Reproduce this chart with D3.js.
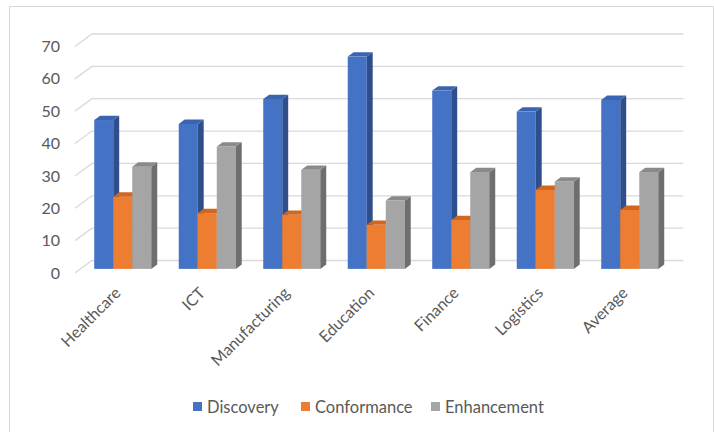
<!DOCTYPE html>
<html>
<head>
<meta charset="utf-8">
<script src="https://cdn.jsdelivr.net/npm/d3@7"></script>
<style>
  html, body { margin: 0; padding: 0; background: #ffffff; }
  svg { display: block; }
  text { font-family: Lato, "Liberation Sans", sans-serif; fill: #595959; }
</style>
</head>
<body>
<svg id="chart" width="714" height="432"></svg>
<script>
// ---- data ----
const categories = ["Healthcare", "ICT", "Manufacturing", "Education", "Finance", "Logistics", "Average"];
const seriesNames = ["Discovery", "Conformance", "Enhancement"];
const discovery   = [46.0, 44.8, 52.5, 65.6, 55.1, 48.6, 52.2];
const conformance = [22.3, 17.2, 16.7, 13.6, 15.1, 24.4, 18.2];
const enhancement = [31.6, 37.8, 30.6, 21.1, 29.9, 27.0, 29.9];
const yTicks = [0, 10, 20, 30, 40, 50, 60, 70];

const seriesValues = [discovery, conformance, enhancement];
const colors = {
  Discovery:   { front: "#4472C4", side: "#2E4F8C", top: "#3A64B0" },
  Conformance: { front: "#ED7D31", side: "#B45A1E", top: "#D0661F" },
  Enhancement: { front: "#A5A5A5", side: "#6E6E6E", top: "#8A8A8A" }
};

const svg = d3.select("#chart");

// chart frame
svg.append("rect")
  .attr("x", 9.5).attr("y", 6.5).attr("width", 704).attr("height", 440)
  .attr("fill", "none").attr("stroke", "#d9d9d9").attr("stroke-width", 1);

// 3D oblique geometry
const DX = 17, DY = 12.5;          // full floor depth offset
const d0 = 0.33, d1 = 0.68;        // bar depth span
const floorFrontY = 273;

const y = d3.scaleLinear().domain([0, 70]).range([floorFrontY, floorFrontY - 226.5]);
const x0 = d3.scaleBand().domain(categories).range([74.9, 666.4])
  .paddingInner(0.325).paddingOuter(0.1625);
const x1 = d3.scaleBand().domain(seriesNames).range([0, x0.bandwidth()]);

// gridlines (side wall diagonal + back wall)
const grid = svg.append("g");
yTicks.forEach(t => {
  const yf = y(t);
  grid.append("polyline")
    .attr("points", [[74.9, yf], [74.9 + DX, yf - DY], [666.4 + DX, yf - DY]].map(p => p.join(",")).join(" "))
    .attr("fill", "none").attr("stroke", "#d9d9d9").attr("stroke-width", 1.3);
});

// y labels
svg.append("g").selectAll("text").data(yTicks).join("text")
  .attr("x", 60).attr("y", d => y(d))
  .attr("dy", "0.35em")
  .attr("text-anchor", "end")
  .style("font-size", "16px")
  .text(d => d);

// bars
const bdx = DX * (d1 - d0), bdy = DY * (d1 - d0);
const barsG = svg.append("g");
const bars = [];
categories.forEach((c, i) => {
  seriesNames.forEach((s, j) => {
    bars.push({ cat: c, series: s, value: seriesValues[j][i] });
  });
});
bars.forEach(b => {
  const xf = x0(b.cat) + x1(b.series) + DX * d0;
  const yb = y(0) - DY * d0;
  const yt = y(b.value) - DY * d0;
  const w = x1.bandwidth();
  const c = colors[b.series];
  const g = barsG.append("g");
  g.append("rect").attr("x", xf).attr("y", yt).attr("width", w).attr("height", yb - yt)
    .attr("fill", c.front);
  g.append("polygon")
    .attr("points", [[xf + w, yt], [xf + w + bdx, yt - bdy], [xf + w + bdx, yb - bdy], [xf + w, yb]].map(p => p.join(",")).join(" "))
    .attr("fill", c.side);
  g.append("polygon")
    .attr("points", [[xf, yt], [xf + bdx, yt - bdy], [xf + w + bdx, yt - bdy], [xf + w, yt]].map(p => p.join(",")).join(" "))
    .attr("fill", c.top);
});

// category labels
svg.append("g").selectAll("text").data(categories).join("text")
  .attr("transform", d => {
    const cx = x0(d) + x0.bandwidth() / 2 + DX * d0;
    return `translate(${cx - 5},${290}) rotate(-45)`;
  })
  .attr("text-anchor", "end")
  .attr("dy", "0.35em")
  .style("font-size", "16px")
  .text(d => d);

// legend
const legendX = [193, 301, 431];
const legend = svg.append("g");
seriesNames.forEach((s, j) => {
  legend.append("rect").attr("x", legendX[j]).attr("y", 402).attr("width", 9).attr("height", 9)
    .attr("fill", colors[s].front);
  legend.append("text").attr("x", legendX[j] + 14).attr("y", 407).attr("dy", "0.35em")
    .style("font-size", "16.5px").text(s);
});
</script>
</body>
</html>
